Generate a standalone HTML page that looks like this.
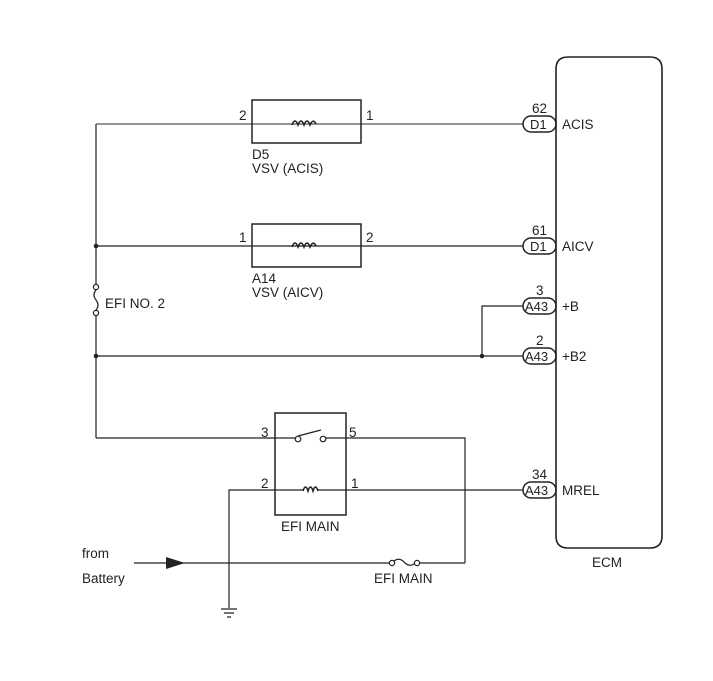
<!DOCTYPE html>
<html><head><meta charset="utf-8"><style>
html,body{margin:0;padding:0;background:#fff;width:713px;height:681px;overflow:hidden}
svg text{font-family:"Liberation Sans",Arial,sans-serif;fill:#222}
</style></head><body>
<svg width="713" height="681" viewBox="0 0 713 681" xmlns="http://www.w3.org/2000/svg">
<g fill="none" stroke="#222" stroke-width="1.2">
<path d="M568 57 H650 Q662 57 662 69 V536 Q662 548 650 548 H568 Q556 548 556 536 V69 Q556 57 568 57 Z" stroke-width="1.6"/>
<path d="M96 124 V284 M96 316 V438"/>
<circle cx="96" cy="287" r="2.6" fill="#fff"/>
<circle cx="96" cy="313" r="2.6" fill="#fff"/>
<path d="M96 290 Q92 295 96 300 Q100 305 96 310"/>
<path d="M96 124 H523" stroke="#555"/>
<rect x="252" y="100" width="109" height="43" stroke-width="1.5"/>
<path d="M96 246 H523"/>
<rect x="252" y="224" width="109" height="43" stroke-width="1.5"/>
<path d="M482 356 V306 H523"/>
<path d="M96 356 H523"/>
<path d="M96 438 H296 M322 438 H465 V563"/>
<rect x="275" y="413" width="71" height="102" stroke-width="1.5"/>
<path d="M298 436 L321 430"/>
<circle cx="298" cy="439" r="2.8" fill="#fff"/>
<circle cx="323" cy="439" r="2.8" fill="#fff"/>
<path d="M229 608 V490 H303 M317 490 H523"/>
<path d="M134 563 H390 M419 563 H465"/>
<path d="M393 562 Q399 556 405 563 Q411 568 416 562"/>
<circle cx="392" cy="563" r="2.6" fill="#fff"/>
<circle cx="417" cy="563" r="2.6" fill="#fff"/>
<path d="M221 609 H237 M224 613 H234 M227 617 H231"/>
<rect x="523" y="116" width="33" height="16" rx="8" stroke-width="1.5"/>
<rect x="523" y="238" width="33" height="16" rx="8" stroke-width="1.5"/>
<rect x="523" y="298" width="33" height="16" rx="8" stroke-width="1.5"/>
<rect x="523" y="348" width="33" height="16" rx="8" stroke-width="1.5"/>
<rect x="523" y="482" width="33" height="16" rx="8" stroke-width="1.5"/>
</g>
<g fill="none" stroke="#222" stroke-width="1.6">
<path d="M292 125 q3 -8 6 0 q3 -8 6 0 q3 -8 6 0 q3 -7 6 -1"/>
<path d="M292 247 q3 -8 6 0 q3 -8 6 0 q3 -8 6 0 q3 -7 6 -1"/>
<path d="M303 491 q2.5 -8 5 0 q2.5 -8 5 0 q2.5 -8 5 0"/>
</g>
<g fill="#222">
<circle cx="96" cy="246" r="2.3"/><circle cx="96" cy="356" r="2.3"/><circle cx="482" cy="356" r="2.3"/>
<path d="M166 557 L185 563 L166 569 Z"/>
</g>
<g font-size="13.5">
<text x="239" y="120">2</text><text x="366" y="120">1</text>
<text x="252" y="159">D5</text><text x="252" y="173">VSV (ACIS)</text>
<text x="239" y="242">1</text><text x="366" y="242">2</text>
<text x="252" y="283">A14</text><text x="252" y="297">VSV (AICV)</text>
<text x="105" y="308">EFI NO. 2</text>
<text x="261" y="437">3</text><text x="349" y="437">5</text>
<text x="261" y="488">2</text><text x="351" y="488">1</text>
<text x="281" y="531">EFI MAIN</text>
<text x="374" y="583">EFI MAIN</text>
<text x="82" y="558">from</text><text x="82" y="583">Battery</text>
<text x="532" y="113">62</text><text x="562" y="129">ACIS</text>
<text x="532" y="235">61</text><text x="562" y="251">AICV</text>
<text x="536" y="295">3</text><text x="562" y="311">+B</text>
<text x="536" y="345">2</text><text x="562" y="361">+B2</text>
<text x="532" y="479">34</text><text x="562" y="495">MREL</text>
<text x="592" y="567">ECM</text>
</g>
<g font-size="13">
<text x="530" y="129">D1</text><text x="530" y="251">D1</text>
<text x="525" y="311">A43</text><text x="525" y="361">A43</text><text x="525" y="495">A43</text>
</g>
</svg>
</body></html>
